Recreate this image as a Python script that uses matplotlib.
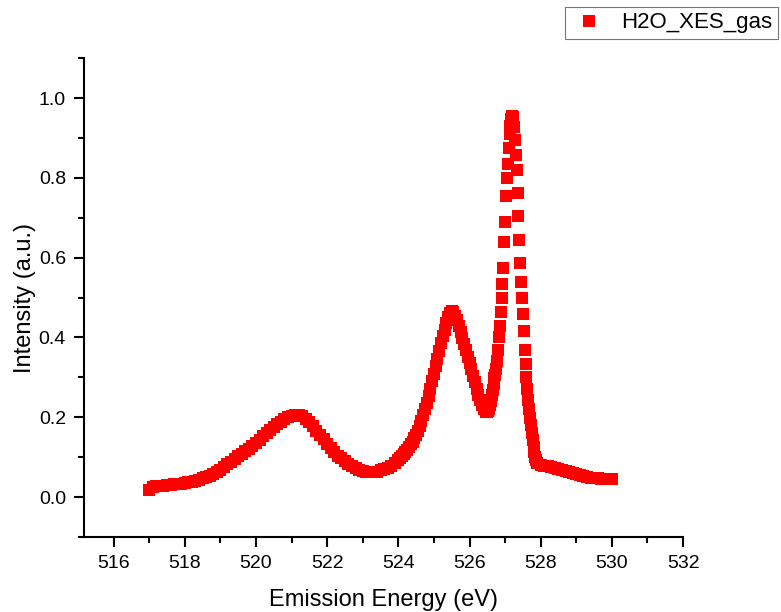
import matplotlib
matplotlib.use("Agg")
import matplotlib.pyplot as plt
from matplotlib.ticker import MultipleLocator

plt.rcParams['font.family'] = ['Liberation Sans', 'DejaVu Sans']

series_name = "H2O_XES_gas"
x_label = "Emission Energy (eV)"
y_label = "Intensity (a.u.)"

# Emission energy (eV) and intensity
energy_low = [517.0, 517.1, 517.2, 517.3, 517.4, 517.5, 517.6, 517.7, 517.8, 517.9,
              518.0, 518.1, 518.2, 518.3, 518.4, 518.5, 518.6, 518.7, 518.8, 518.9,
              519.0, 519.1, 519.2, 519.3, 519.4, 519.5, 519.6, 519.7, 519.8, 519.9,
              520.0, 520.1, 520.2, 520.3, 520.4, 520.5, 520.6, 520.7, 520.8, 520.9,
              521.0, 521.1, 521.2, 521.3, 521.4, 521.5, 521.6, 521.7, 521.8, 521.9,
              522.0, 522.1, 522.2, 522.3, 522.4, 522.5, 522.6, 522.7, 522.8, 522.9,
              523.0, 523.1, 523.2, 523.3, 523.4, 523.5, 523.6, 523.7, 523.8, 523.9]
intensity_low = [0.018, 0.025, 0.027, 0.028, 0.029, 0.030, 0.031, 0.032, 0.033, 0.034,
                 0.035, 0.037, 0.039, 0.041, 0.044, 0.047, 0.050, 0.053, 0.057, 0.062,
                 0.068, 0.076, 0.083, 0.089, 0.095, 0.102, 0.108, 0.115, 0.121, 0.128,
                 0.136, 0.144, 0.152, 0.160, 0.168, 0.175, 0.182, 0.189, 0.195, 0.200,
                 0.203, 0.205, 0.205, 0.203, 0.196, 0.187, 0.177, 0.166, 0.155, 0.145,
                 0.134, 0.123, 0.113, 0.104, 0.097, 0.090, 0.084, 0.079, 0.074, 0.069,
                 0.066, 0.064, 0.063, 0.063, 0.064, 0.067, 0.070, 0.074, 0.079, 0.085]

energy_mid = [524.0, 524.05, 524.1, 524.15, 524.2, 524.25, 524.3, 524.35, 524.4, 524.45,
              524.5, 524.55, 524.6, 524.65, 524.7, 524.75, 524.8, 524.85, 524.9, 524.95,
              525.0, 525.05, 525.1, 525.15, 525.2, 525.25, 525.3, 525.35, 525.4, 525.45,
              525.5, 525.55, 525.6, 525.65, 525.7, 525.75, 525.8, 525.85, 525.9, 525.95,
              526.0, 526.05, 526.1, 526.15, 526.2, 526.25, 526.3, 526.35, 526.4, 526.45]
intensity_mid = [0.093, 0.097, 0.102, 0.107, 0.113, 0.119, 0.125, 0.132, 0.139, 0.147,
                 0.156, 0.166, 0.178, 0.191, 0.205, 0.220, 0.236, 0.253, 0.271, 0.290,
                 0.309, 0.328, 0.347, 0.366, 0.385, 0.403, 0.420, 0.437, 0.452, 0.462,
                 0.466, 0.464, 0.455, 0.443, 0.428, 0.413, 0.399, 0.384, 0.368, 0.352,
                 0.336, 0.320, 0.304, 0.288, 0.272, 0.257, 0.243, 0.230, 0.220, 0.214]

energy_peak = [526.5, 526.525, 526.55, 526.575, 526.6, 526.625, 526.65, 526.675, 526.7, 526.725,
               526.75, 526.775, 526.8, 526.825, 526.85, 526.875, 526.9, 526.925, 526.95, 526.975,
               527.0, 527.025, 527.05, 527.075, 527.1, 527.125, 527.15, 527.175, 527.2, 527.225,
               527.25, 527.275, 527.3, 527.325, 527.35, 527.375, 527.4, 527.425, 527.45, 527.475,
               527.5, 527.525, 527.55, 527.575, 527.6, 527.625, 527.65, 527.675, 527.7, 527.725,
               527.75, 527.775, 527.8, 527.825, 527.85, 527.875, 527.9]
intensity_peak = [0.213, 0.216, 0.222, 0.231, 0.242, 0.255, 0.269, 0.284, 0.299, 0.305,
                  0.320, 0.340, 0.368, 0.400, 0.430, 0.465, 0.500, 0.535, 0.575, 0.640,
                  0.690, 0.755, 0.800, 0.835, 0.875, 0.910, 0.930, 0.948, 0.955, 0.952,
                  0.928, 0.896, 0.857, 0.820, 0.763, 0.704, 0.645, 0.587, 0.540, 0.498,
                  0.460, 0.417, 0.368, 0.333, 0.300, 0.270, 0.243, 0.220, 0.198, 0.180,
                  0.160, 0.142, 0.125, 0.112, 0.100, 0.092, 0.086]

energy_high = [528.0, 528.1, 528.2, 528.3, 528.4, 528.5, 528.6, 528.7, 528.8, 528.9,
               529.0, 529.1, 529.2, 529.3, 529.4, 529.5, 529.6, 529.7, 529.8, 529.9, 530.0]
intensity_high = [0.080, 0.078, 0.077, 0.075, 0.073, 0.070, 0.067, 0.065, 0.062, 0.060,
                  0.057, 0.055, 0.053, 0.051, 0.049, 0.048, 0.047, 0.046, 0.046, 0.045, 0.045]

energy = energy_low + energy_mid + energy_peak + energy_high
intensity = intensity_low + intensity_mid + intensity_peak + intensity_high

fig = plt.figure(figsize=(7.81, 6.12), dpi=100)
ax = fig.add_axes([0.1076, 0.1225, 0.767, 0.7825])

ax.plot(energy, intensity, linestyle='none', marker='s', markersize=8.2,
        color='#ff0000', markeredgewidth=0, label=series_name)

ax.set_xlim(515.17, 532.0)
ax.set_ylim(-0.1, 1.1)
ax.xaxis.set_major_locator(MultipleLocator(2))
ax.xaxis.set_minor_locator(MultipleLocator(1))
ax.yaxis.set_major_locator(MultipleLocator(0.2))
ax.yaxis.set_minor_locator(MultipleLocator(0.1))
ax.set_yticks([0.0, 0.2, 0.4, 0.6, 0.8, 1.0])
ax.set_yticklabels(['0.0', '0.2', '0.4', '0.6', '0.8', '1.0'])

for side in ['top', 'right']:
    ax.spines[side].set_visible(False)
for side in ['left', 'bottom']:
    ax.spines[side].set_linewidth(1.5)
ax.tick_params(which='major', direction='out', length=7, width=1.5, labelsize=14, pad=6)
ax.tick_params(which='minor', direction='out', length=4, width=1.5)

ax.set_xlabel(x_label, fontsize=17, labelpad=12)
ax.set_ylabel(y_label, fontsize=17, labelpad=2)

leg = fig.legend(loc='upper right', bbox_to_anchor=(0.996, 0.989), fontsize=16,
                 frameon=True, fancybox=False, edgecolor='#555555',
                 borderaxespad=0.0, handlelength=1.7, handletextpad=0.6,
                 borderpad=0.25, markerscale=1.0)
leg.get_frame().set_linewidth(0.8)

fig.savefig('out.png', dpi=100)
